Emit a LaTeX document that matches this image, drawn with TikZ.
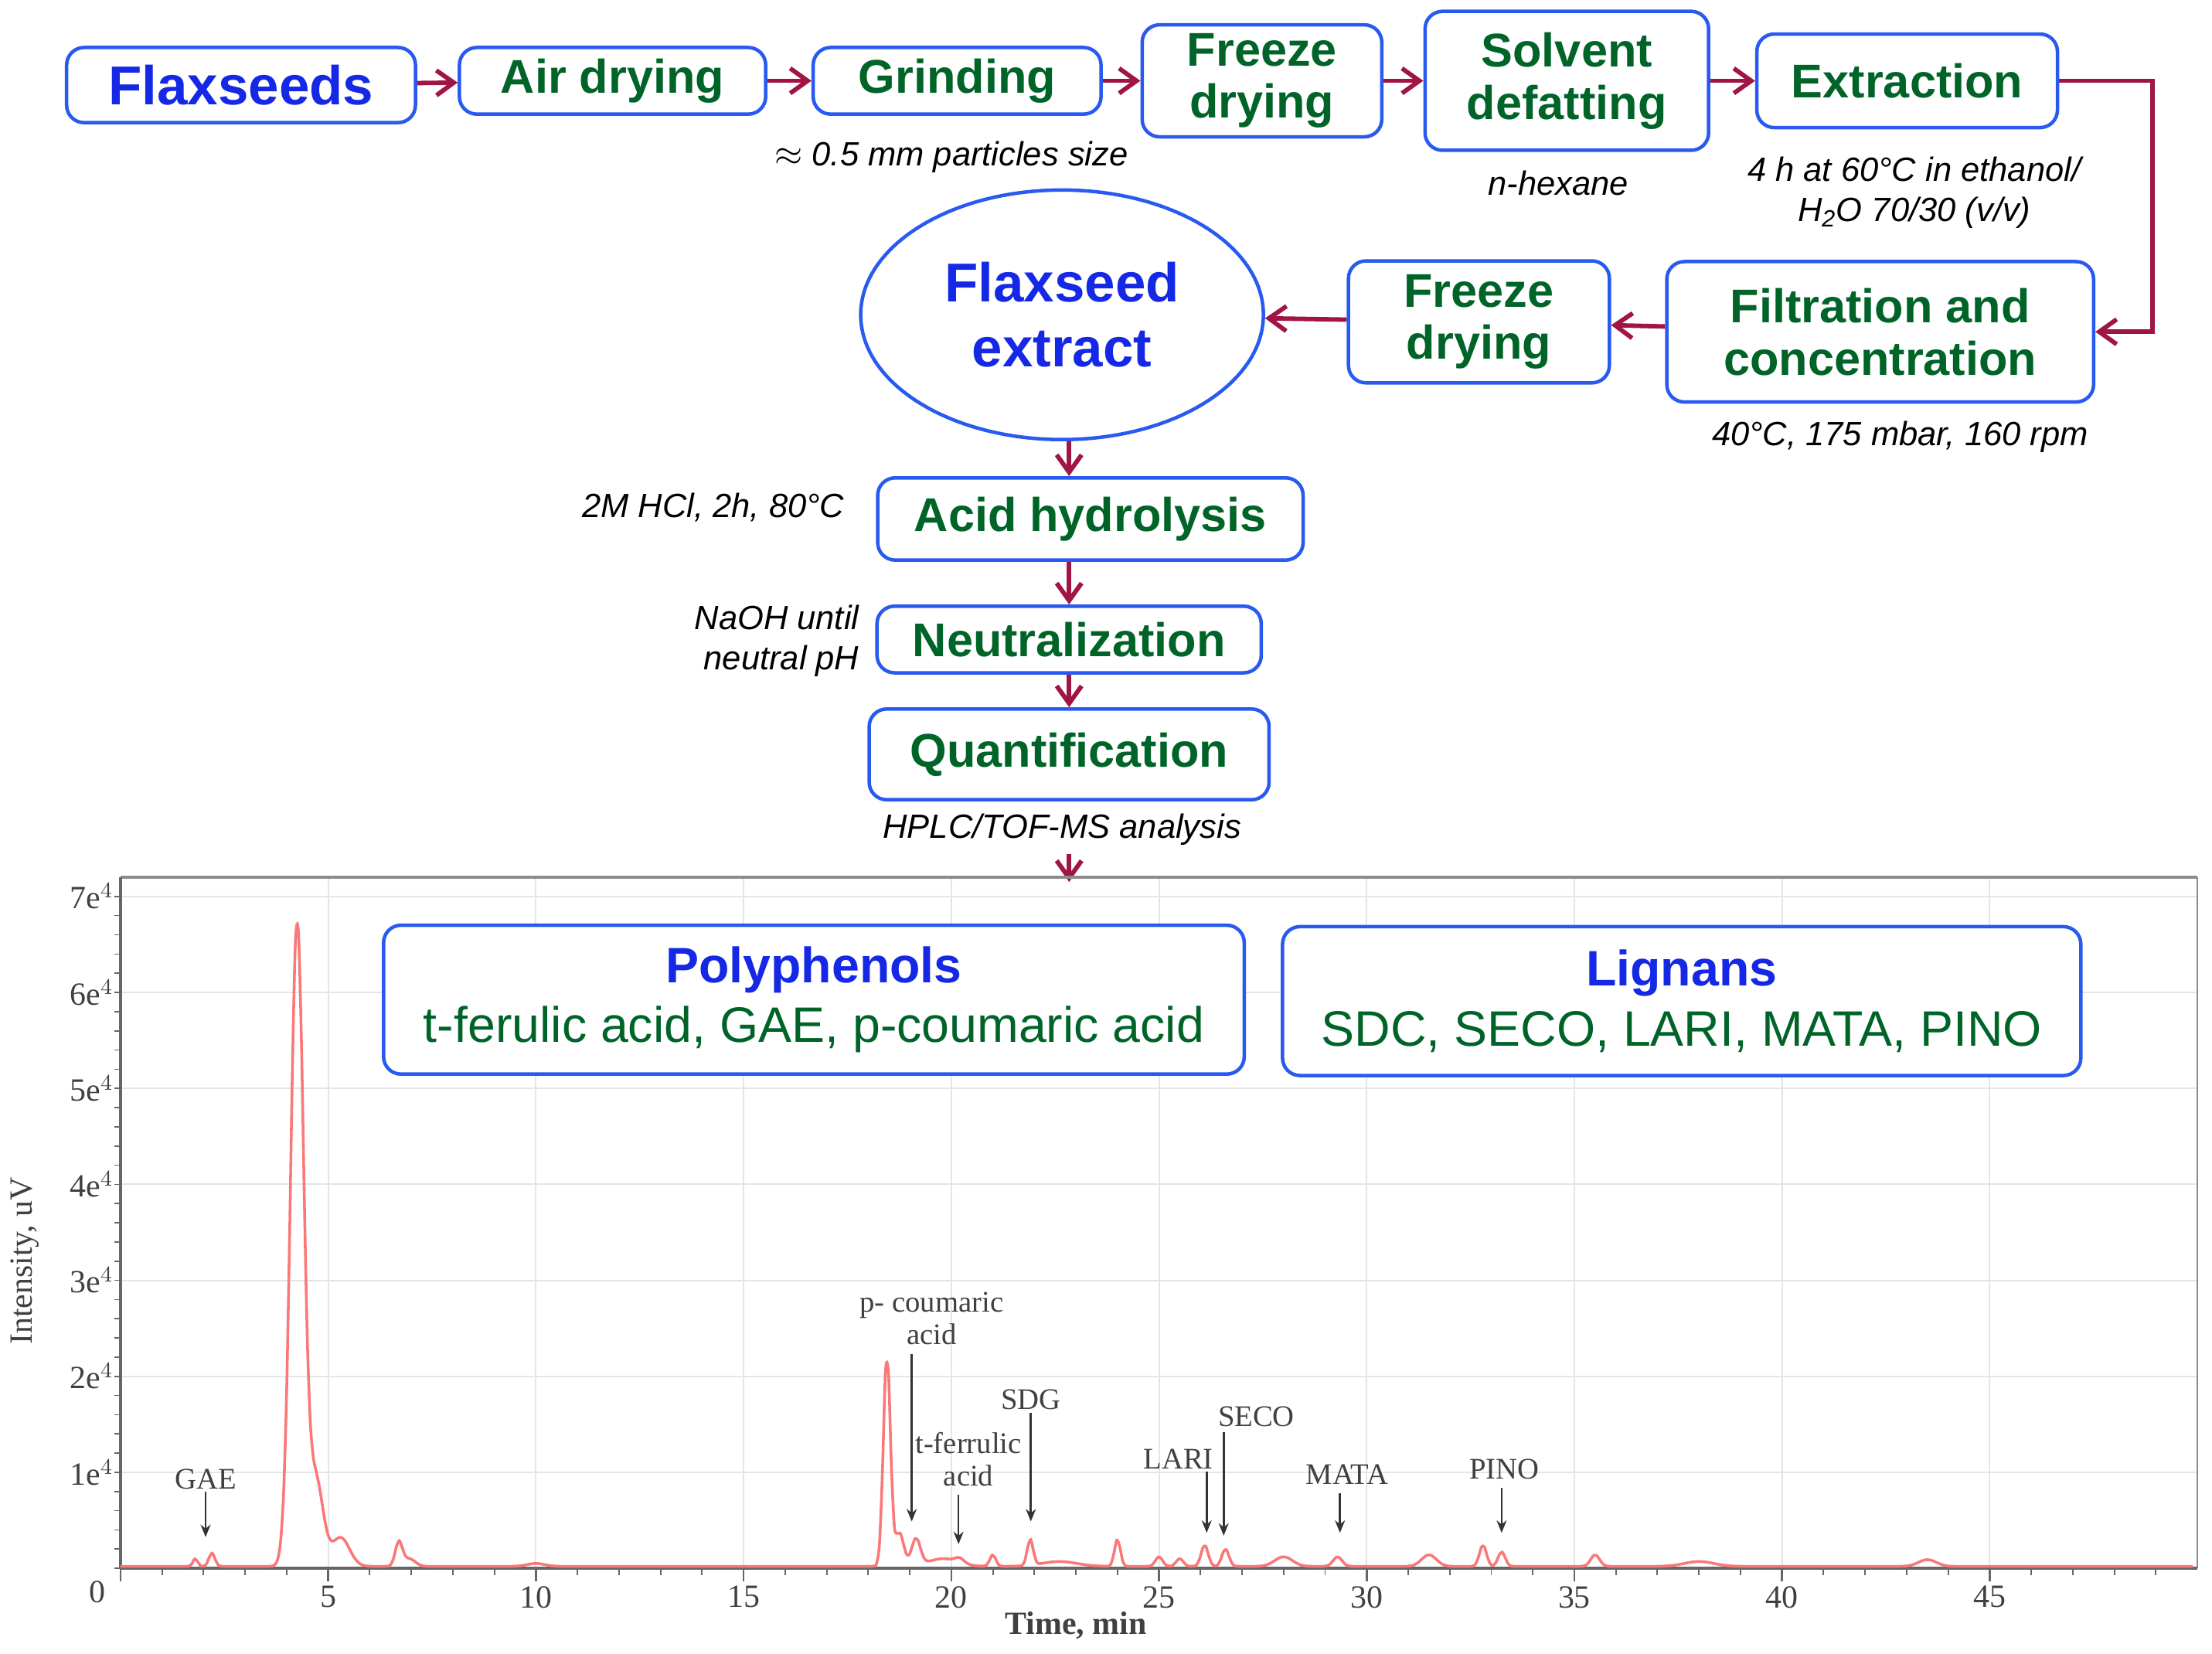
\documentclass[tikz,border=0pt]{standalone}
\usepackage{fontspec}
\setmainfont{Liberation Sans}
\newfontfamily\serifchart{Liberation Serif}
\usetikzlibrary{arrows.meta,shapes.geometric}
\definecolor{tblue}{RGB}{20,40,230}
\definecolor{tgreen}{RGB}{0,100,40}
\definecolor{bblue}{RGB}{40,90,240}
\definecolor{arr}{RGB}{160,20,70}
\definecolor{curve}{RGB}{250,120,120}
\begin{document}
\begin{tikzpicture}[x=0.02cm,y=-0.02cm,
  sz/.style 2 args={minimum width=#1*0.02cm,minimum height=#2*0.02cm},
  box/.style={draw=bblue,line width=1.4pt,rounded corners=7pt,fill=white,inner sep=0pt,font=\fontsize{19}{21}\selectfont\bfseries,text=tgreen,align=center},
  fl/.style={arr,line width=1.8pt,-{Straight Barb[length=7pt,width=10pt,line width=1.8pt]}},
  lab/.style={font=\fontsize{13.5}{16}\selectfont\itshape,align=center},
  cl/.style={font=\serifchart\fontsize{12}{13}\selectfont,text=black!75,align=center,inner sep=1pt},
  ca/.style={black!80,line width=0.8pt,-{Stealth[length=5pt,width=4pt]}},
  declare function={g(\t,\c,\w,\h)=\h*exp(-(min(abs(\t-\c),4*\w)/\w)^2);}]
\useasboundingbox (0,0) rectangle (1560,1166);
% ---------- flow ----------
\node[box,sz={246}{53},text=tblue,font=\fontsize{22}{24}\selectfont\bfseries] (fs) at (170,60) {Flaxseeds};
\node[box,sz={216}{47}] (ad) at (432,57) {Air drying};
\node[box,sz={203}{47}] (gr) at (675,57) {Grinding};
\node[box,sz={169}{79}] (fd1) at (890,57) {Freeze\\drying};
\node[box,sz={200}{98}] (sd) at (1105,57) {Solvent\\defatting};
\node[box,sz={212}{66}] (ex) at (1345,57) {Extraction};
\node[box,sz={301}{99}] (fc) at (1326,234) {Filtration and\\concentration};
\node[box,sz={184}{86}] (fd2) at (1043,227) {Freeze\\drying};
\node[ellipse,draw=bblue,line width=1.4pt,sz={284}{176},inner sep=0pt,text=tblue,font=\fontsize{22}{26}\selectfont\bfseries,align=center] (fe) at (749,222) {Flaxseed\\extract};
\node[box,sz={300}{58}] (ah) at (769,366) {Acid hydrolysis};
\node[box,sz={271}{47}] (ne) at (754,451) {Neutralization};
\node[box,sz={282}{64}] (qu) at (754,532) {Quantification};
\coordinate (ct) at (754,622);
\coordinate (bend) at (1518,57);
\draw[fl] (fs) -- (ad);
\draw[fl] (ad) -- (gr);
\draw[fl] (gr) -- (fd1);
\draw[fl] (fd1) -- (sd);
\draw[fl] (sd) -- (ex);
\draw[fl] (ex.east) -- (bend) |- (fc.east);
\draw[fl] (fc) -- (fd2);
\draw[fl] (fd2) -- (fe);
\draw[fl] (fe.south -| ne.north) -- (ah.north -| ne.north);
\draw[fl] (ah.south -| ne.north) -- (ne);
\draw[fl] (ne) -- (qu);
\node[lab] (l1) at (671,111) {$\approx$ 0.5 mm particles size};
\node[lab] (l2) at (1099,129) {n-hexane};
\node[lab] (l3) at (1350,136) {4 h at 60°C in ethanol/\\H\textsubscript{2}O 70/30 (v/v)};
\node[lab] (l4) at (1340,308) {40°C, 175 mbar, 160 rpm};
\node[lab] (l5) at (503,358) {2M HCl, 2h, 80°C};
\node[lab,align=right,anchor=east] (l6) at (612,452) {NaOH until\\neutral pH};
\node[lab] (l7) at (749,585) {HPLC/TOF-MS analysis};
\draw[fl] (l7.south -| ct) -- (ct);
% ---------- chart ----------
\begin{scope}[shift={(85,1106)},x=0.586cm,y=1.354cm]
  \foreach \i in {5,10,...,45} \draw[black!10,line width=0.6pt] (\i,0) -- (\i,7.2);
  \foreach \j in {1,...,7} \draw[black!10,line width=0.6pt] (0,\j) -- (50,\j);
  \draw[black!45,line width=1pt] (0,7.2) -- (50,7.2);
  \draw[black!45,line width=0.6pt] (50,7.2) -- (50,0);
  \draw[black!60,line width=1.3pt] (0,0) -- (50,0);
  \draw[black!60,line width=1.3pt] (0,0) -- (0,7.2);
  \foreach \i in {1,...,49} \draw[black!60,line width=0.6pt] (\i,0) -- (\i,-0.07);
  \foreach \i in {0,5,...,45} \draw[black!60,line width=0.8pt] (\i,0) -- (\i,-0.14);
  \foreach \j in {0,0.2,...,7.0} \draw[black!60,line width=0.5pt] (0,\j) -- (-0.15,\j);
  \foreach \i in {5,10,...,45} \node[cl,font=\serifchart\fontsize{13}{14}\selectfont] (xt\i) at (\i,-0.3) {\i};
  \node[cl,font=\serifchart\fontsize{13}{14}\selectfont] (x0) at (-0.55,-0.25) {0};
  \foreach \j in {1,...,7} \node[cl,anchor=east,font=\serifchart\fontsize{13}{14}\selectfont] (yt\j) at (-0.1,\j) {\j e$^{4}$};
  \node[cl,font=\serifchart\bfseries\fontsize{13}{14}\selectfont] (xl) at (23,-0.6) {Time, min};
  \node[cl,rotate=90,font=\serifchart\fontsize{13}{14}\selectfont] (yl) at (-2.3,3.2) {Intensity, uV};
  \draw[curve,line width=1.1pt] plot[domain=0:49.9,samples=700,smooth] (\x,{0.02
    +g(\x,1.8,0.08,0.08)+g(\x,2.2,0.1,0.14)
    +g(\x,4.25,0.22,6.7)+g(\x,4.7,0.25,0.9)+g(\x,5.3,0.3,0.3)+g(\x,6.7,0.12,0.25)+g(\x,6.95,0.2,0.08)
    +g(\x,10,0.3,0.03)+g(\x,18.45,0.12,2.2)+g(\x,18.75,0.15,0.35)+g(\x,19.15,0.15,0.28)+g(\x,19.8,0.5,0.08)
    +g(\x,20.2,0.15,0.05)+g(\x,21,0.1,0.12)+g(\x,21.9,0.1,0.27)+g(\x,22.6,0.6,0.05)+g(\x,24,0.1,0.28)
    +g(\x,25,0.12,0.1)+g(\x,25.5,0.12,0.08)+g(\x,26.1,0.12,0.22)+g(\x,26.6,0.12,0.18)+g(\x,28,0.3,0.1)
    +g(\x,29.3,0.15,0.1)+g(\x,31.5,0.25,0.12)+g(\x,32.8,0.12,0.22)+g(\x,33.25,0.12,0.15)+g(\x,35.5,0.15,0.12)
    +g(\x,38,0.5,0.05)+g(\x,43.5,0.3,0.07)});
\end{scope}
\node[cl] (gae) at (145,1043) {GAE};
\coordinate (gae2) at (145,1084);
\draw[ca] (gae) -- (gae2);
\node[cl] (pc) at (657,930) {p- coumaric\\acid};
\coordinate (pc2) at (643,1073);
\draw[ca] (643,955) -- (pc2);
\node[cl] (tf) at (683,1029) {t-ferrulic\\acid};
\coordinate (tf2) at (676,1089);
\draw[ca] (676,1054) -- (tf2);
\node[cl] (sdg) at (727,987) {SDG};
\coordinate (sdg2) at (727,1073);
\draw[ca] (sdg) -- (sdg2);
\node[cl] (lari) at (831,1029) {LARI};
\coordinate (lari2) at (851,1081);
\draw[ca] (851,1038) -- (lari2);
\node[cl] (seco) at (886,999) {SECO};
\coordinate (seco2) at (863,1083);
\draw[ca] (863,1010) -- (seco2);
\node[cl] (mata) at (950,1040) {MATA};
\coordinate (mata2) at (945,1081);
\draw[ca] (945,1053) -- (mata2);
\node[cl] (pino) at (1061,1036) {PINO};
\coordinate (pino2) at (1059,1081);
\draw[ca] (1059,1049) -- (pino2);
\node[box,sz={607}{105},font=\fontsize{20}{24}\selectfont] (pp) at (574,705) {{\bfseries\color{tblue}Polyphenols}\\{\mdseries t-ferulic acid, GAE, p-coumaric acid}};
\node[box,sz={563}{105},font=\fontsize{20}{24}\selectfont] (lg) at (1186,706) {{\bfseries\color{tblue}Lignans}\\{\mdseries SDC, SECO, LARI, MATA, PINO}};
\end{tikzpicture}
\end{document}
